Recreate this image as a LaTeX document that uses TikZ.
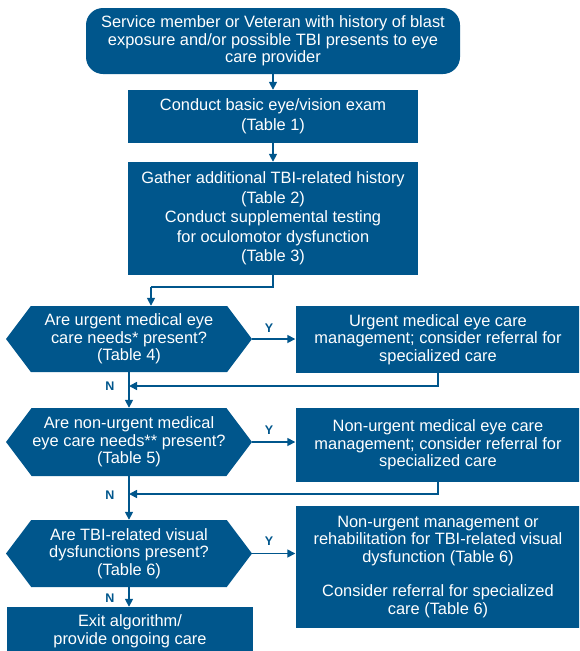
\documentclass[tikz,border=0pt]{standalone}
\usepackage{fontspec}
\setmainfont{Liberation Sans}
\usepackage{tikz}
\usetikzlibrary{arrows.meta,shapes.symbols}
\definecolor{vablue}{RGB}{0,86,140}

\begin{document}
\begin{tikzpicture}[x=1pt, y=-1pt,
  box/.style={fill=vablue, text=white, align=center, inner sep=0pt,
              font=\fontsize{16.4}{17.5}\selectfont},
  tall/.style={box, font=\fontsize{16.4}{19.5}\selectfont},
  hexa/.style={box, shape=signal, signal to=east and west,
               signal pointer angle=106, minimum width=246pt},
  yn/.style={font=\fontsize{12.5}{12.5}\selectfont\bfseries, text=vablue},
  line/.style={draw=vablue, line width=1.6pt},
  arr/.style={line, -{Triangle[length=8pt,width=8pt]}}
]
\clip (0,0) rectangle (579,651);
\node[box, rounded corners=17pt, minimum width=374pt, minimum height=66pt]
  (start) at (273,41)
  {Service member or Veteran with history of blast\\exposure and/or possible TBI presents to eye\\care provider};
\node[tall, minimum width=290pt, minimum height=53pt] (exam) at (273,116.5)
  {Conduct basic eye/vision exam\\(Table 1)};
\node[tall, minimum width=290pt, minimum height=113pt] (hist) at (273,218.5)
  {Gather additional TBI-related history\\(Table 2)\\Conduct supplemental testing\\for oculomotor dysfunction\\(Table 3)};
\node[hexa, minimum height=66pt] (q1) at (129,339)
  {Are urgent medical eye\\care needs* present?\\(Table 4)};
\node[hexa, minimum height=68pt] (q2) at (129,442)
  {Are non-urgent medical\\eye care needs** present?\\(Table 5)};
\node[hexa, minimum height=67pt] (q3) at (129,553.5)
  {Are TBI-related visual\\dysfunctions present?\\(Table 6)};
\node[box, minimum width=285pt, minimum height=67pt] (u1) at (438,339.5)
  {Urgent medical eye care\\management; consider referral for\\specialized care};
\node[box, minimum width=285pt, minimum height=74pt] (u2) at (438,445)
  {Non-urgent medical eye care\\management; consider referral for\\specialized care};
\node[box, minimum width=285pt, minimum height=122pt] (u3) at (438,567)
  {Non-urgent management or\\rehabilitation for TBI-related visual\\dysfunction (Table 6)\\[17pt]Consider referral for specialized\\care (Table 6)};
\node[box, minimum width=246pt, minimum height=49pt] (exit) at (130,631.5)
  {Exit algorithm/\\provide ongoing care};
\coordinate (j0) at (151,287);
\coordinate (j1) at (129,386);
\coordinate (j2) at (129,494);
\node[yn] (y1) at (269,328) {Y};
\node[yn] (y2) at (269,430) {Y};
\node[yn] (y3) at (269,541) {Y};
\node[yn] (n1) at (110,386) {N};
\node[yn] (n2) at (110,495) {N};
\node[yn] (n3) at (110,598) {N};
\draw[arr] (start) -- (exam);
\draw[arr] (exam) -- (hist);
\draw[line] (hist.south) |- (j0);
\draw[arr] (j0) -- (j0 |- q1.north);
\draw[arr] (q1.east) -- (q1.east -| u1.west);
\draw[arr] (q2.east) -- (q2.east -| u2.west);
\draw[arr] (q3.east) -- (q3.east -| u3.west);
\draw[arr] (u1.south) |- (j1);
\draw[arr] (u2.south) |- (j2);
\draw[arr] (q1.south) -- (q2.north);
\draw[arr] (q2.south) -- (q3.north);
\draw[arr] (q3.south) -- (q3.south |- exit.north);
\end{tikzpicture}
\end{document}
